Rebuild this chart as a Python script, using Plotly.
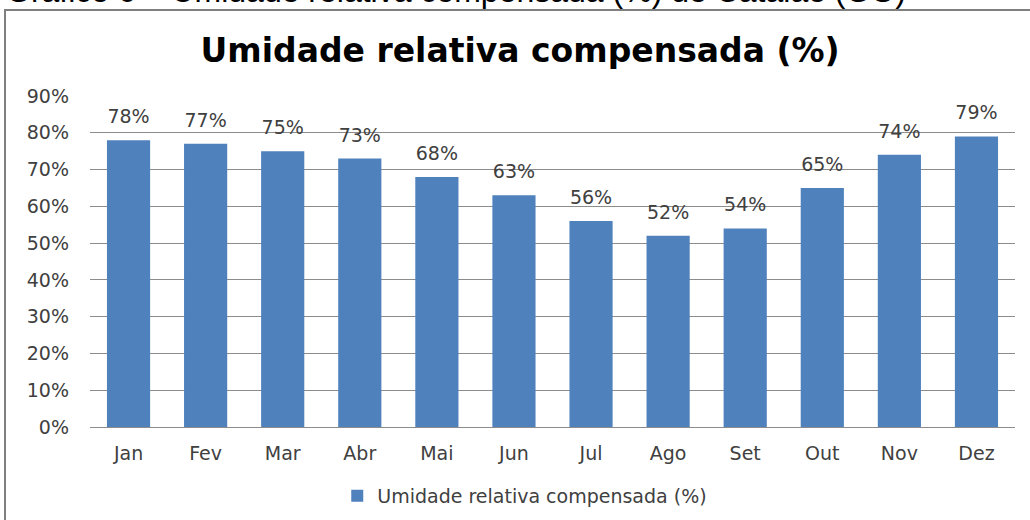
import plotly.graph_objects as go

# monthly data
months = ["Jan", "Fev", "Mar", "Abr", "Mai", "Jun", "Jul", "Ago", "Set", "Out", "Nov", "Dez"]
humidity = [0.78, 0.77, 0.75, 0.73, 0.68, 0.63, 0.56, 0.52, 0.54, 0.65, 0.74, 0.79]
y_ticks = [0, 0.1, 0.2, 0.3, 0.4, 0.5, 0.6, 0.7, 0.8, 0.9]

series_name = "Umidade relativa compensada (%)"
font_family = "DejaVu Sans, Open Sans, sans-serif"
bar_color = "#4F81BD"
grid_color = "#8C8C8C"
text_color = "#404040"

fig = go.Figure()

fig.add_trace(
    go.Bar(
        x=months,
        y=humidity,
        name=series_name,
        marker=dict(color=bar_color, line=dict(width=0)),
        hovertemplate="%{x}: %{y:.0%}<extra></extra>",
    )
)

# value labels, sitting a bit higher above the bars as in Excel
fig.add_trace(
    go.Scatter(
        x=months,
        y=humidity,
        mode="markers+text",
        marker=dict(size=18, opacity=0),
        text=[f"{v:.0%}" for v in humidity],
        textposition="top center",
        textfont=dict(size=19, color=text_color, family=font_family),
        showlegend=False,
        hoverinfo="skip",
        cliponaxis=False,
    )
)

fig.update_layout(
    width=1030,
    height=520,
    paper_bgcolor="white",
    plot_bgcolor="white",
    bargap=0.44,
    margin=dict(l=90, r=15, t=96, b=93, autoexpand=False),
    showlegend=True,
    legend=dict(
        orientation="h",
        x=0.47,
        xanchor="center",
        y=-0.208,
        yanchor="middle",
        font=dict(size=19, color=text_color, family=font_family),
    ),
    title=dict(
        text="<b>Umidade relativa compensada (%)</b>",
        x=0.465,
        xref="paper",
        xanchor="center",
        y=1 - 50 / 520,
        yanchor="middle",
        font=dict(size=33, color="black", family=font_family),
    ),
)

fig.update_yaxes(
    range=[0, 0.9],
    tickvals=y_ticks,
    tickformat=".0%",
    showgrid=True,
    gridcolor=grid_color,
    gridwidth=1,
    zeroline=False,
    showline=False,
    ticks="",
    automargin=False,
    ticklabelstandoff=20,
    tickfont=dict(size=19, color=text_color, family=font_family),
)

fig.update_xaxes(
    range=[-0.5, len(months) - 0.5],
    showgrid=False,
    showline=True,
    linecolor=grid_color,
    linewidth=1,
    ticks="",
    automargin=False,
    ticklabelstandoff=9,
    tickfont=dict(size=19, color=text_color, family=font_family),
)

# chart frame, partially off the page like in the cropped source
fig.add_shape(
    type="rect",
    xref="paper",
    yref="paper",
    x0=(5 - 90) / 925,
    x1=(1034 - 90) / 925,
    y0=(427 - 524) / 331,
    y1=(427 - 10) / 331,
    line=dict(color="#7F7F7F", width=2),
    layer="below",
)

# caption of the document, cut by the top of the picture
fig.add_annotation(
    text="Gráfico 6 – Umidade relativa compensada (%) de Catalão (GO)",
    xref="paper",
    yref="paper",
    x=(4 - 90) / 925,
    xanchor="left",
    y=(427 - 11) / 331,
    yanchor="bottom",
    showarrow=False,
    font=dict(size=32, color="black", family="Liberation Sans, Arial, sans-serif"),
)

# drop the default page margin so the figure starts at the window corner
fig.write_html(
    "out.html",
    config={"displayModeBar": False},
    post_script="document.body.style.margin = '0';",
)
